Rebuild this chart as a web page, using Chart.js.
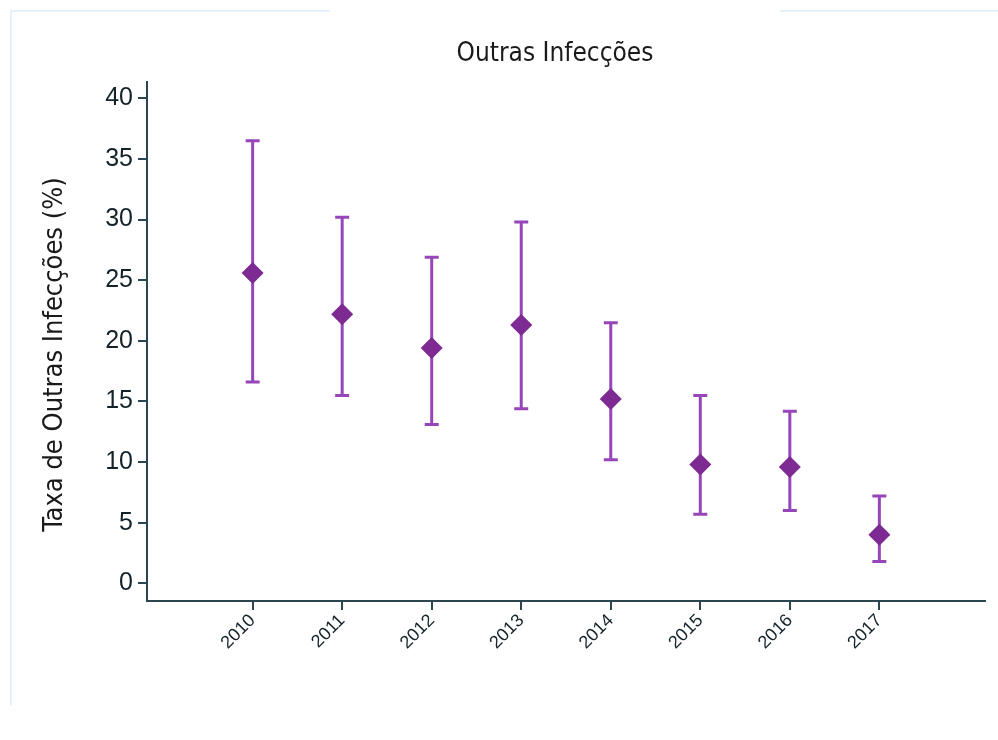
<!DOCTYPE html>
<html>
<head>
<meta charset="utf-8">
<script src="https://cdn.jsdelivr.net/npm/chart.js@4.4.1/dist/chart.umd.min.js"></script>
<style>
html,body{margin:0;padding:0;background:#fff;}
#wrap{width:998px;height:740px;position:relative;}
</style>
</head>
<body>
<div id="wrap"><canvas id="c" width="998" height="740"></canvas></div>
<script>
const years = [2010, 2011, 2012, 2013, 2014, 2015, 2016, 2017];
const rates = [25.6, 22.2, 19.4, 21.3, 15.2, 9.8, 9.6, 4.0];
const upper = [36.5, 30.2, 26.9, 29.8, 21.5, 15.5, 14.2, 7.2];
const lower = [16.6, 15.5, 13.1, 14.4, 10.2, 5.7, 6.0, 1.8];
const yTicks = [0, 5, 10, 15, 20, 25, 30, 35, 40];
const chartTitle = 'Outras Infecções';
const yTitle = 'Taxa de Outras Infecções (%)';

const axisColor = '#2c4650';
const barColor = '#9646b8';
const markColor = '#7d2a92';
const narrowFont = '"Liberation Sans Narrow", "DejaVu Sans Condensed", sans-serif';

const errorBars = {
  id: 'errorBars',
  beforeDatasetsDraw(chart) {
    const {ctx, scales: {x, y}} = chart;
    ctx.save();
    ctx.strokeStyle = barColor;
    ctx.lineWidth = 3;
    const cap = 7;
    years.forEach((yr, i) => {
      const px = x.getPixelForValue(yr);
      const pt = y.getPixelForValue(upper[i]);
      const pb = y.getPixelForValue(lower[i]);
      ctx.beginPath();
      ctx.moveTo(px, pt); ctx.lineTo(px, pb);
      ctx.moveTo(px - cap, pt); ctx.lineTo(px + cap, pt);
      ctx.moveTo(px - cap, pb); ctx.lineTo(px + cap, pb);
      ctx.stroke();
    });
    ctx.restore();
  }
};

const titles = {
  id: 'titles',
  afterDraw(chart) {
    const {ctx, chartArea} = chart;
    ctx.save();
    ctx.fillStyle = '#1a1a1a';
    ctx.font = '26px ' + narrowFont;
    ctx.textAlign = 'center';
    ctx.textBaseline = 'middle';
    ctx.fillText(chartTitle, (chartArea.left + chartArea.right) / 2 - 11, 54);
    // y axis title
    ctx.save();
    ctx.translate(55, (chartArea.top + chartArea.bottom) / 2 + 13);
    ctx.rotate(-Math.PI / 2);
    ctx.font = '27px ' + narrowFont;
    ctx.fillText(yTitle, 0, 0);
    ctx.restore();
    // faint scan border
    ctx.strokeStyle = '#e6f0f8';
    ctx.lineWidth = 2;
    ctx.beginPath();
    ctx.moveTo(11, 705); ctx.lineTo(11, 11); ctx.lineTo(330, 11);
    ctx.moveTo(780, 11); ctx.lineTo(998, 11);
    ctx.stroke();
    ctx.restore();
  }
};

new Chart(document.getElementById('c'), {
  type: 'scatter',
  data: {
    datasets: [{
      data: years.map((yr, i) => ({x: yr, y: rates[i]})),
      pointStyle: 'rectRot',
      pointRadius: 11,
      pointHoverRadius: 11,
      backgroundColor: markColor,
      borderColor: markColor,
      borderWidth: 0
    }]
  },
  options: {
    responsive: false,
    animation: false,
    events: [],
    layout: {padding: {top: 82, right: 13, left: 0, bottom: 0}},
    plugins: {legend: {display: false}, tooltip: {enabled: false}, title: {display: false}},
    scales: {
      x: {
        type: 'linear',
        min: 2008.82,
        max: 2018.18,
        afterBuildTicks(s) { s.ticks = years.map(v => ({value: v})); },
        afterFit(s) { s.height = 139; },
        ticks: {
          callback: v => String(v),
          minRotation: 45, maxRotation: 45,
          color: '#14232a',
          font: {family: '"Liberation Sans", Arial, sans-serif', size: 18},
          padding: 0
        },
        grid: {display: true, drawOnChartArea: false, drawTicks: true, tickLength: 9, color: axisColor, lineWidth: 2},
        border: {display: true, color: axisColor, width: 2}
      },
      y: {
        min: -1.46,
        max: 41.35,
        afterBuildTicks(s) { s.ticks = yTicks.map(v => ({value: v})); },
        afterFit(s) { s.width = 147; },
        ticks: {
          color: '#14232a',
          font: {family: '"Liberation Sans", Arial, sans-serif', size: 25},
          padding: 5
        },
        grid: {display: true, drawOnChartArea: false, drawTicks: true, tickLength: 9, color: axisColor, lineWidth: 2},
        border: {display: true, color: axisColor, width: 2},
        title: {display: false}
      }
    }
  },
  plugins: [errorBars, titles]
});
</script>
</body>
</html>
